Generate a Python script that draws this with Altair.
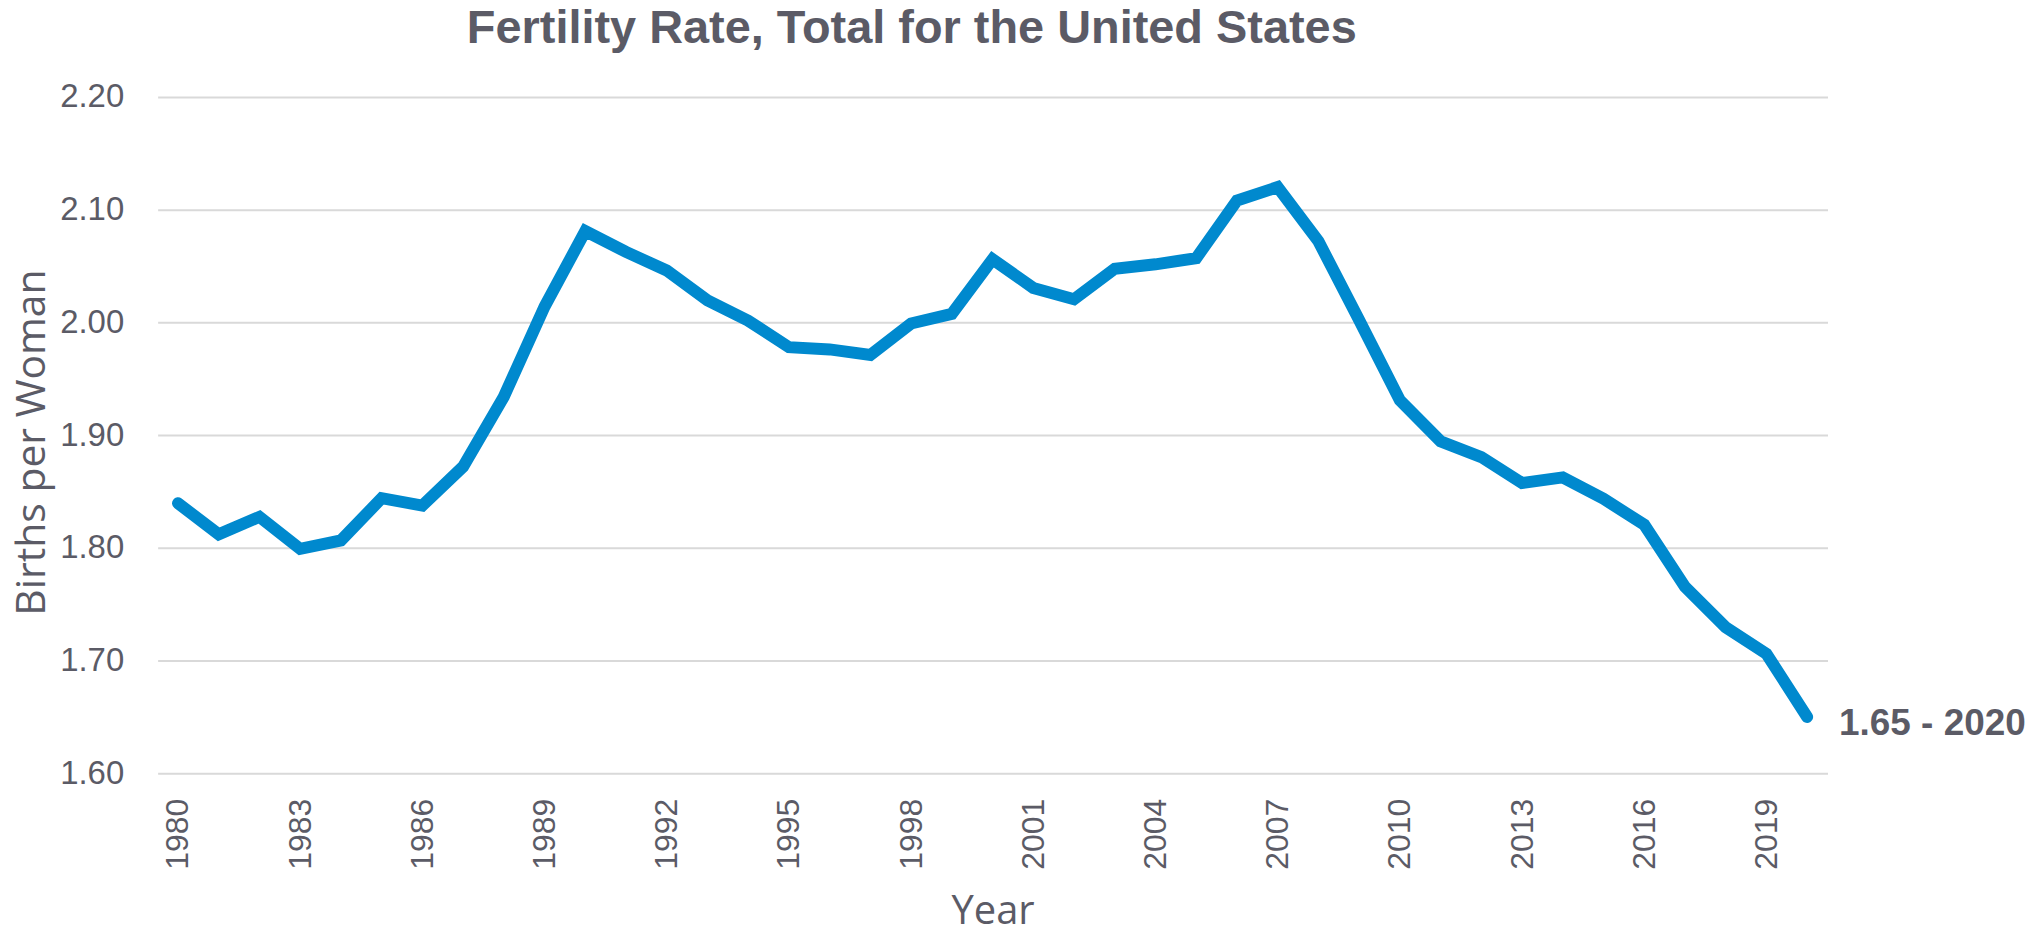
import altair as alt
import pandas as pd

# ---- data ----
years = list(range(1980, 2021))
fertility = [1.8395, 1.812, 1.8275, 1.799, 1.8065, 1.844, 1.8375, 1.872, 1.934, 2.014,
             2.081, 2.0625, 2.046, 2.0195, 2.0015, 1.978, 1.976, 1.971, 1.999, 2.0075,
             2.056, 2.0305, 2.0205, 2.0475, 2.0515, 2.057, 2.108, 2.12, 2.072, 2.002,
             1.931, 1.8945, 1.8805, 1.8575, 1.8625, 1.8435, 1.8205, 1.7655, 1.7295, 1.706,
             1.65]
x_ticks = [1980, 1983, 1986, 1989, 1992, 1995, 1998, 2001, 2004, 2007, 2010, 2013, 2016, 2019]
y_ticks = [1.6, 1.7, 1.8, 1.9, 2.0, 2.1, 2.2]
ann_year = [2020]
ann_value = [1.65]
ann_text = ["1.65 - 2020"]

TEXT = "#5B5B66"
LINE = "#0089CE"
GRID = "#D9D9D9"

df = pd.DataFrame({"Year": years, "Rate": fertility})
ann = pd.DataFrame({"Year": ann_year, "Rate": ann_value, "Label": ann_text})

x = alt.X(
    "Year:Q",
    scale=alt.Scale(domain=[1979.5, 2020.5], nice=False, zero=False),
    axis=alt.Axis(
        values=x_ticks, format="d", labelAngle=-90, labelAlign="right",
        labelBaseline="middle", labelPadding=25, ticks=False, tickSize=0,
        domain=False, grid=False, labelFlush=False, labelOverlap=False,
        labelFont="Liberation Sans", labelFontSize=32, labelColor=TEXT,
        title="Year", titleFont="Open Sans", titleFontSize=40,
        titleFontWeight="normal", titleColor=TEXT, titleY=151,
        titleBaseline="alphabetic",
    ),
)
y = alt.Y(
    "Rate:Q",
    scale=alt.Scale(domain=[1.6, 2.2], nice=False, zero=False),
    axis=alt.Axis(
        values=y_ticks, format=".2f", ticks=False, tickSize=0, domain=False,
        grid=True, gridColor=GRID, gridWidth=2, labelPadding=34,
        labelFont="Liberation Sans", labelFontSize=33, labelColor=TEXT,
        title="Births per Woman", titleFont="Open Sans", titleFontSize=41,
        titleFontWeight="normal", titleColor=TEXT, titleAngle=-90,
        titleX=-113, titleY=346, titleAlign="center", titleBaseline="alphabetic",
    ),
)

line = alt.Chart(df).mark_line(
    color=LINE, strokeWidth=12, strokeCap="round", strokeJoin="miter"
).encode(x=x, y=y)

label = alt.Chart(ann).mark_text(
    align="left", baseline="alphabetic", dx=32, dy=18,
    font="Liberation Sans", fontWeight="bold", fontSize=37, color=TEXT,
).encode(x="Year:Q", y="Rate:Q", text="Label:N")

chart = (
    alt.layer(line, label)
    .properties(
        width=1674,
        height=678,
        autosize=alt.AutoSizeParams(type="none"),
        padding={"left": 150, "top": 88, "right": 202, "bottom": 156},
        title=alt.TitleParams(
            text="Fertility Rate, Total for the United States",
            font="Liberation Sans", fontSize=47, fontWeight="bold", color=TEXT,
            anchor="middle", frame="group", baseline="alphabetic", offset=10,
            dx=-81, dy=19,
        ),
    )
    .configure_view(stroke=None)
)

chart.save("out.html", embed_options={"renderer": "svg", "actions": False})
